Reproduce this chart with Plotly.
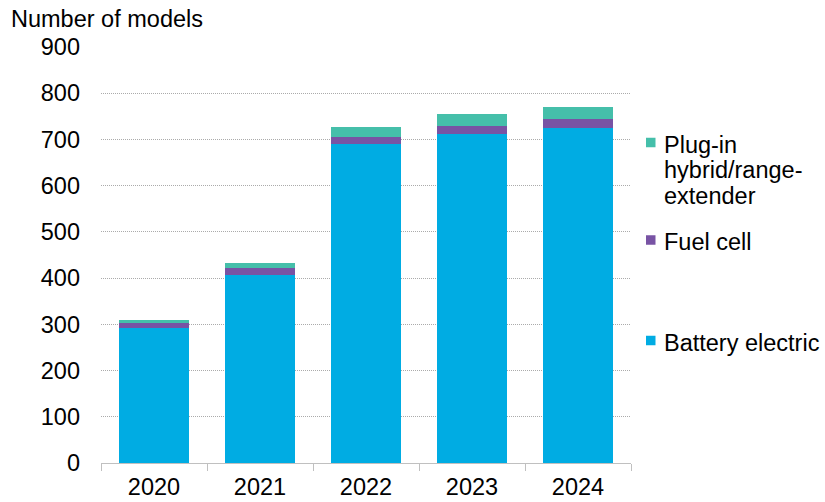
import plotly.graph_objects as go

years = ["2020", "2021", "2022", "2023", "2024"]
battery_electric = [293, 407, 691, 712, 725]
fuel_cell = [9, 14, 14, 18, 20]
plug_in_hybrid = [7, 11, 22, 25, 26]

y_ticks = [0, 100, 200, 300, 400, 500, 600, 700, 800, 900]

C_BEV = "#00ACE3"
C_FC = "#7853A4"
C_PH = "#45BFAA"
FONT = "Liberation Sans, Arial, sans-serif"
FS = 23.5

fig = go.Figure()
fig.add_trace(go.Bar(x=years, y=battery_electric, name="Battery electric",
                     marker=dict(color=C_BEV, line=dict(width=0))))
fig.add_trace(go.Bar(x=years, y=fuel_cell, name="Fuel cell",
                     marker=dict(color=C_FC, line=dict(width=0))))
fig.add_trace(go.Bar(x=years, y=plug_in_hybrid, name="Plug-in hybrid/range-extender",
                     marker=dict(color=C_PH, line=dict(width=0))))

W, H = 825, 502
L, R, T, B = 101, 194, 47, 39
pw, ph = W - L - R, H - T - B

def px(xp):
    return (xp - L) / pw

def py(yp):
    return (H - B - yp) / ph

annotations = [
    dict(text="Number of models", x=px(9), y=py(19), xref="paper", yref="paper",
         xanchor="left", yanchor="middle", showarrow=False,
         font=dict(size=FS, color="#000000", family=FONT)),
]
shapes = []
legend_items = [
    (C_PH, 142.5, ["Plug-in", "hybrid/range-", "extender"]),
    (C_FC, 240, ["Fuel cell"]),
    (C_BEV, 340.5, ["Battery electric"]),
]
for color, yc, lines in legend_items:
    shapes.append(dict(type="rect", xref="paper", yref="paper",
                       x0=px(646), x1=px(655.5), y0=py(yc + 4.75), y1=py(yc - 4.75),
                       fillcolor=color, line=dict(width=0)))
    for i, t in enumerate(lines):
        annotations.append(dict(text=t, x=px(662), y=py(yc + 2 + i * 25.5),
                                xref="paper", yref="paper", xanchor="left",
                                yanchor="middle", showarrow=False,
                                font=dict(size=FS, color="#000000", family=FONT)))

fig.update_layout(
    barmode="stack",
    bargap=0.337,
    width=W, height=H,
    margin=dict(l=L, r=R, t=T, b=B, pad=0, autoexpand=False),
    plot_bgcolor="white", paper_bgcolor="white",
    showlegend=False,
    font=dict(family=FONT, size=FS, color="#000000"),
    annotations=annotations,
    shapes=shapes,
    xaxis=dict(type="category", tickson="boundaries", ticks="outside", ticklen=7,
               tickcolor="#C0C0C0", tickwidth=1, showline=True, linecolor="#C0C0C0",
               linewidth=1, showgrid=False, tickfont=dict(size=FS, color="#000000"),
               ticklabelstandoff=3, automargin=False, fixedrange=True),
    yaxis=dict(range=[0, 900], tickvals=y_ticks, showgrid=True, gridcolor="#ABABAB",
               griddash="1px,1px", gridwidth=1, zeroline=False, showline=False,
               ticks="", ticklabelstandoff=20, tickfont=dict(size=FS, color="#000000"),
               automargin=False, fixedrange=True),
)

fig.write_html("out.html", config={"displayModeBar": False},
               post_script="document.body.style.margin='0';document.body.style.padding='0';")
